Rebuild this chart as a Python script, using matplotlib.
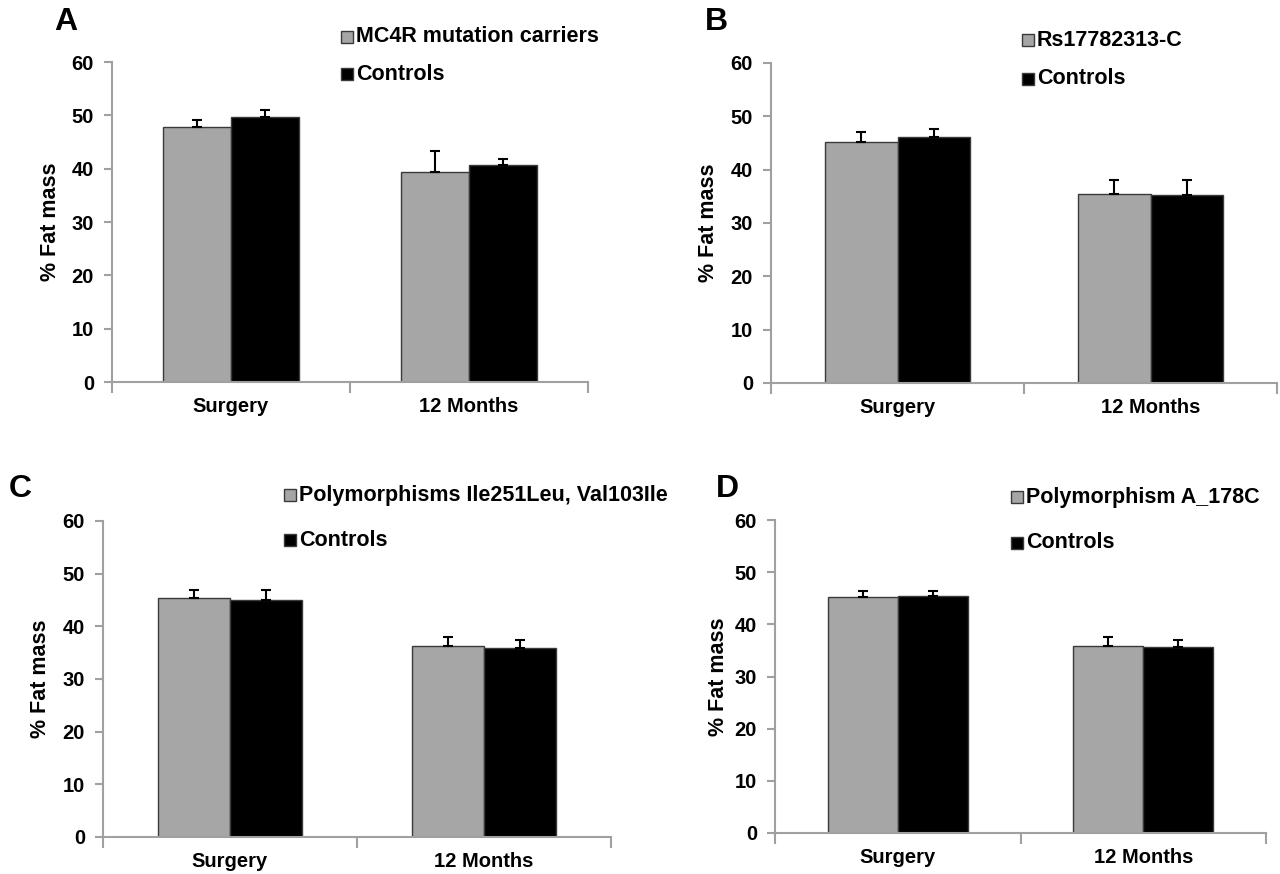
import matplotlib
matplotlib.use("Agg")
import matplotlib.pyplot as plt
from matplotlib.patches import Rectangle
import numpy as np

plt.rcParams['font.family'] = ['Liberation Sans', 'DejaVu Sans']
plt.rcParams['font.weight'] = 'bold'

categories = ["Surgery", "12 Months"]
y_ticks = [0, 10, 20, 30, 40, 50, 60]
panel_letters = ["A", "B", "C", "D"]
group_labels = ["MC4R mutation carriers", "Rs17782313-C",
                "Polymorphisms Ile251Leu, Val103Ile", "Polymorphism A_178C"]
control_label = "Controls"

# values per panel: [Surgery, 12 Months]
carriers_A = [47.9, 39.4]; carriers_A_err = [1.3, 3.9]
controls_A = [49.7, 40.6]; controls_A_err = [1.3, 1.3]
carriers_B = [45.2, 35.5]; carriers_B_err = [1.8, 2.5]
controls_B = [46.1, 35.2]; controls_B_err = [1.6, 2.8]
carriers_C = [45.3, 36.2]; carriers_C_err = [1.6, 1.8]
controls_C = [45.0, 35.9]; controls_C_err = [1.9, 1.5]
carriers_D = [45.2, 35.9]; carriers_D_err = [1.2, 1.6]
controls_D = [45.5, 35.7]; controls_D_err = [0.9, 1.3]

W, H = 1280, 874
fig = plt.figure(figsize=(W / 100, H / 100), dpi=100)

def fx(x):
    return x / W

def fy(y):
    return 1 - y / H

# layout in pixels
layouts = [
    dict(ax=(112, 588, 62, 382), letter=(66, 22), ylab=51, leg_x=341, leg_y=(37, 74)),
    dict(ax=(771, 1277, 63, 383), letter=(716, 22), ylab=708, leg_x=1022, leg_y=(40, 79)),
    dict(ax=(103, 611, 521, 837), letter=(20, 489), ylab=41, leg_x=284, leg_y=(495, 540)),
    dict(ax=(775, 1266, 520, 833), letter=(727, 489), ylab=718, leg_x=1011, leg_y=(497, 543)),
]

data = [
    (carriers_A, carriers_A_err, controls_A, controls_A_err),
    (carriers_B, carriers_B_err, controls_B, controls_B_err),
    (carriers_C, carriers_C_err, controls_C, controls_C_err),
    (carriers_D, carriers_D_err, controls_D, controls_D_err),
]

gray = "#a6a6a6"
axis_col = "#a0a0a0"
edge_col = "#3a3a3a"
bw = 0.285

for i, lay in enumerate(layouts):
    l, r, t, b = lay["ax"]
    ax = fig.add_axes([fx(l), fy(b), (r - l) / W, (b - t) / H])
    car, car_e, con, con_e = data[i]
    x = np.arange(len(categories)) + 0.5
    ax.bar(x - bw / 2, car, bw, color=gray, edgecolor=edge_col, linewidth=1.0, zorder=2)
    ax.bar(x + bw / 2, con, bw, color="black", edgecolor=edge_col, linewidth=1.0, zorder=2)
    ax.errorbar(x - bw / 2, car, yerr=[np.zeros(len(car)), car_e], fmt="none",
                ecolor="black", elinewidth=1.5, capsize=3.5, capthick=1.5, zorder=3)
    ax.errorbar(x + bw / 2, con, yerr=[np.zeros(len(con)), con_e], fmt="none",
                ecolor="black", elinewidth=1.5, capsize=3.5, capthick=1.5, zorder=3)
    ax.set_xlim(0, len(categories))
    ax.set_ylim(0, 60)
    ax.set_yticks(y_ticks)
    ax.set_yticklabels([str(v) for v in y_ticks], fontsize=14.5, fontweight="bold")
    ax.set_xticks(np.arange(len(categories) + 1))
    ax.set_xticklabels([])
    ax.set_xticks(x, minor=True)
    ax.set_xticklabels(categories, minor=True, fontsize=14.5, fontweight="bold")
    ax.tick_params(axis="x", which="major", direction="out", length=8, width=1.5, color=axis_col)
    ax.tick_params(axis="x", which="minor", length=0, pad=11)
    ax.tick_params(axis="y", direction="out", length=6, width=1.5, color=axis_col, pad=7)
    for s in ["top", "right"]:
        ax.spines[s].set_visible(False)
    for s in ["left", "bottom"]:
        ax.spines[s].set_color(axis_col)
        ax.spines[s].set_linewidth(1.5)
    ax.spines["bottom"].set_zorder(4)
    fig.text(fx(lay["ylab"]), fy((t + b) / 2), "% Fat mass", rotation=90,
             ha="center", va="center", fontsize=15.5, fontweight="bold")
    lx, ly = lay["letter"]
    fig.text(fx(lx), fy(ly), panel_letters[i], ha="center", va="center",
             fontsize=23, fontweight="bold")
    sq = 12
    for j, (lab, col) in enumerate([(group_labels[i], gray), (control_label, "black")]):
        yy = lay["leg_y"][j]
        fig.add_artist(Rectangle((fx(lay["leg_x"]), fy(yy + sq / 2)), sq / W, sq / H,
                                 transform=fig.transFigure, facecolor=col,
                                 edgecolor=edge_col, linewidth=1.0))
        fig.text(fx(lay["leg_x"] + sq + 3), fy(yy), lab, ha="left", va="center",
                 fontsize=15.5, fontweight="bold")

fig.savefig("out.png", dpi=100)
